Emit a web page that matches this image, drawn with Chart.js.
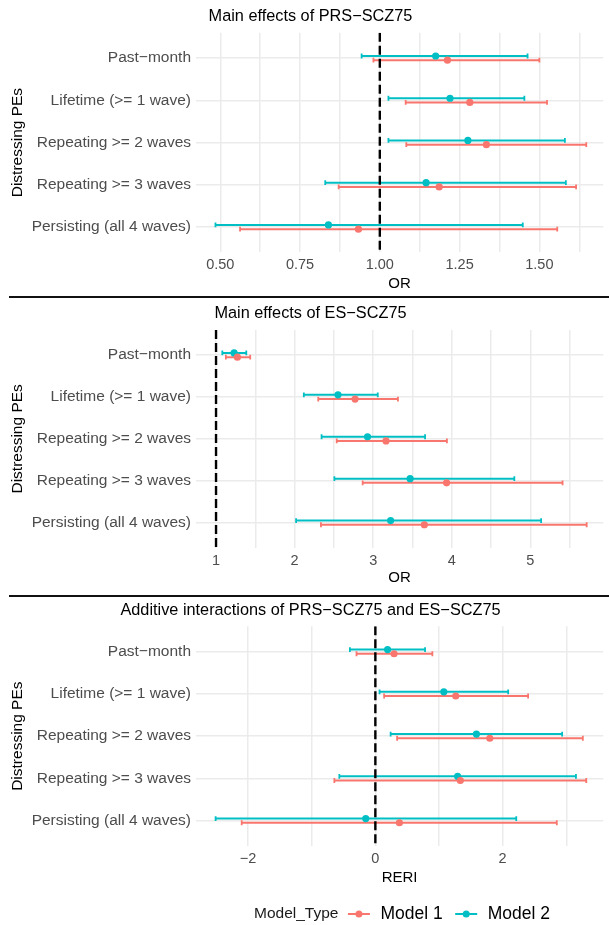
<!DOCTYPE html>
<html>
<head>
<meta charset="utf-8">
<script src="https://cdn.jsdelivr.net/npm/chart.js@4.4.0/dist/chart.umd.min.js"></script>
<style>
html,body{margin:0;padding:0;background:#fff;}
#wrap{position:relative;width:609px;height:925px;overflow:hidden;background:#fff;}
.panel{position:absolute;left:0;width:609px;}
.sep{position:absolute;left:9px;width:600px;height:2px;background:#111;}
</style>
</head>
<body>
<div id="wrap">
  <div class="panel" style="top:0;height:298px"><canvas id="c1"></canvas></div>
  <div class="panel" style="top:298px;height:298px"><canvas id="c2"></canvas></div>
  <div class="panel" style="top:596px;height:329px"><canvas id="c3"></canvas></div>
  <div class="sep" style="top:296px"></div>
  <div class="sep" style="top:595px"></div>
</div>
<script>
// ---------- DATA ----------
const CATEGORIES = ['Past\u2212month', 'Lifetime (>= 1 wave)', 'Repeating >= 2 waves', 'Repeating >= 3 waves', 'Persisting (all 4 waves)'];
const SERIES = ['Model 1', 'Model 2'];
const LEGEND_TITLE = 'Model_Type';
const Y_TITLE = 'Distressing PEs';

// Panel 1: Main effects of PRS-SCZ75 (OR)
const PRS_M1_EST = [1.212, 1.282, 1.334, 1.186, 0.933];
const PRS_M1_LO  = [0.980, 1.081, 1.083, 0.871, 0.562];
const PRS_M1_HI  = [1.500, 1.524, 1.647, 1.615, 1.556];
const PRS_M2_EST = [1.175, 1.220, 1.276, 1.145, 0.839];
const PRS_M2_LO  = [0.943, 1.027, 1.027, 0.829, 0.485];
const PRS_M2_HI  = [1.463, 1.453, 1.580, 1.583, 1.448];
const PRS_TICKS = [0.5, 0.75, 1, 1.25, 1.5];
const PRS_TICK_LABELS = ['0.50', '0.75', '1.00', '1.25', '1.50'];
const PRS_MINOR = [0.625, 0.875, 1.125, 1.375, 1.625];

// Panel 2: Main effects of ES-SCZ75 (OR)
const ES_M1_EST = [1.272, 2.769, 3.163, 3.934, 3.651];
const ES_M1_LO  = [1.125, 2.301, 2.536, 2.866, 2.335];
const ES_M1_HI  = [1.435, 3.315, 3.938, 5.410, 5.717];
const ES_M2_EST = [1.230, 2.552, 2.928, 3.470, 3.222];
const ES_M2_LO  = [1.080, 2.117, 2.343, 2.506, 2.019];
const ES_M2_HI  = [1.385, 3.058, 3.660, 4.796, 5.137];
const ES_TICKS = [1, 2, 3, 4, 5];
const ES_TICK_LABELS = ['1', '2', '3', '4', '5'];
const ES_MINOR = [1.5, 2.5, 3.5, 4.5, 5.5];

// Panel 3: Additive interactions (RERI)
const RERI_M1_EST = [0.294, 1.263, 1.798, 1.335, 0.378];
const RERI_M1_LO  = [-0.296, 0.138, 0.342, -0.644, -2.100];
const RERI_M1_HI  = [0.896, 2.400, 3.260, 3.314, 2.851];
const RERI_M2_EST = [0.192, 1.076, 1.588, 1.293, -0.151];
const RERI_M2_LO  = [-0.400, 0.066, 0.240, -0.566, -2.510];
const RERI_M2_HI  = [0.781, 2.087, 2.935, 3.152, 2.214];
const RERI_TICKS = [-2, 0, 2];
const RERI_TICK_LABELS = ['\u22122', '0', '2'];
const RERI_MINOR = [-1, 1, 3];

// ---------- STYLE ----------
const COLORS = ['#F8766D', '#00BFC4'];
const FONT = "'Liberation Sans', Arial, sans-serif";
const GRID = '#EBEBEB';
const DODGE = 0.05;

const legendPlugin = {
  id: 'mtLegend',
  afterDraw(chart) {
    const ctx = chart.ctx;
    const y = chart.height - 11;
    ctx.save();
    ctx.textBaseline = 'middle';
    ctx.textAlign = 'left';
    let x = 254;
    ctx.font = '15.5px ' + FONT;
    ctx.fillStyle = '#1a1a1a';
    ctx.fillText(LEGEND_TITLE, x, y);
    x += ctx.measureText(LEGEND_TITLE).width + 9.5;
    SERIES.forEach((name, m) => {
      ctx.strokeStyle = COLORS[m];
      ctx.fillStyle = COLORS[m];
      ctx.lineWidth = 2;
      ctx.beginPath(); ctx.moveTo(x, y); ctx.lineTo(x + 22, y); ctx.stroke();
      ctx.beginPath(); ctx.arc(x + 11, y, 3.5, 0, Math.PI * 2); ctx.fill();
      x += 32.5;
      ctx.font = '17.5px ' + FONT;
      ctx.fillStyle = '#000';
      ctx.fillText(name, x, y);
      x += ctx.measureText(name).width + 12.5;
    });
    ctx.restore();
  }
};

function buildPanel(id, c) {
  const datasets = [];
  datasets.push({
    label: 'ref', data: [{x: c.ref, y: -0.6}, {x: c.ref, y: 4.6}], showLine: true,
    borderColor: '#000', borderWidth: 2.4, borderDash: [9, 4], pointRadius: 0, order: 0
  });
  const groups = [[c.est1, c.lo1, c.hi1, DODGE], [c.est2, c.lo2, c.hi2, -DODGE]];
  groups.forEach(([est, lo, hi, off], m) => {
    datasets.push({
      label: SERIES[m], data: est.map((v, i) => ({x: v, y: i + off})),
      pointRadius: 3.6, backgroundColor: COLORS[m], pointBorderWidth: 0, borderWidth: 0, order: 1
    });
    est.forEach((_, i) => datasets.push({
      label: SERIES[m] + ' CI', data: [{x: lo[i], y: i + off}, {x: hi[i], y: i + off}],
      showLine: true, borderColor: COLORS[m], borderWidth: 2,
      pointStyle: 'line', pointRotation: 90, pointRadius: 2.4,
      pointBorderWidth: 1.8, pointBorderColor: COLORS[m], pointBackgroundColor: COLORS[m], order: 2
    }));
  });
  const g = c.geo;
  return new Chart(document.getElementById(id), {
    type: 'scatter',
    data: {datasets},
    plugins: c.legend ? [legendPlugin] : [],
    options: {
      responsive: true, maintainAspectRatio: false, animation: false, events: [],
      layout: {padding: {left: 12, right: 0, top: 0, bottom: g.padBottom}},
      plugins: {
        legend: {display: false}, tooltip: {enabled: false},
        title: {display: true, text: c.title, color: '#000',
          font: {family: FONT, size: 16.3, weight: 'normal'},
          padding: {top: g.tTop, bottom: g.tBot}}
      },
      scales: {
        x: {
          type: 'linear', min: g.xmin, max: g.xmax,
          afterBuildTicks: s => { s.ticks = [...c.ticks, ...c.minor].sort((a, b) => a - b).map(v => ({value: v})); },
          afterFit: s => { s.height = g.xh; },
          grid: {color: GRID, lineWidth: 1.5, drawTicks: false},
          border: {display: false},
          ticks: {autoSkip: false, maxRotation: 0, padding: 4, color: '#4D4D4D',
            font: {family: FONT, size: 14.5},
            callback: v => { const k = c.ticks.indexOf(v); return k >= 0 ? c.tickLabels[k] : ''; }},
          title: {display: true, text: c.xTitle, color: '#000', font: {family: FONT, size: 15},
            padding: {top: 0, bottom: g.xtPad}}
        },
        y: {
          type: 'linear', reverse: true, min: -0.6, max: 4.6,
          afterBuildTicks: s => { s.ticks = CATEGORIES.map((_, i) => ({value: i})); },
          afterFit: s => { s.width = 184; },
          grid: {color: GRID, lineWidth: 1.5, drawTicks: false},
          border: {display: false},
          ticks: {autoSkip: false, padding: 5, color: '#4D4D4D', font: {family: FONT, size: 15.5},
            callback: v => CATEGORIES[v] ?? ''},
          title: {display: true, text: Y_TITLE, color: '#000', font: {family: FONT, size: 15.5},
            padding: {top: -3.8, bottom: 0}}
        }
      }
    }
  });
}

buildPanel('c1', {
  title: 'Main effects of PRS\u2212SCZ75', xTitle: 'OR', ref: 1,
  est1: PRS_M1_EST, lo1: PRS_M1_LO, hi1: PRS_M1_HI, est2: PRS_M2_EST, lo2: PRS_M2_LO, hi2: PRS_M2_HI,
  ticks: PRS_TICKS, tickLabels: PRS_TICK_LABELS, minor: PRS_MINOR,
  geo: {xmin: 0.424, xmax: 1.700, padBottom: 0, xh: 45.6, xtPad: 4.8, tTop: 7.2, tBot: 6.0}
});
buildPanel('c2', {
  title: 'Main effects of ES\u2212SCZ75', xTitle: 'OR', ref: 1,
  est1: ES_M1_EST, lo1: ES_M1_LO, hi1: ES_M1_HI, est2: ES_M2_EST, lo2: ES_M2_LO, hi2: ES_M2_HI,
  ticks: ES_TICKS, tickLabels: ES_TICK_LABELS, minor: ES_MINOR,
  geo: {xmin: 0.745, xmax: 5.927, padBottom: 0, xh: 48.2, xtPad: 9.0, tTop: 5.4, tBot: 6.94}
});
buildPanel('c3', {
  title: 'Additive interactions of PRS\u2212SCZ75 and ES\u2212SCZ75', xTitle: 'RERI', ref: 0, legend: true,
  est1: RERI_M1_EST, lo1: RERI_M1_LO, hi1: RERI_M1_HI, est2: RERI_M2_EST, lo2: RERI_M2_LO, hi2: RERI_M2_HI,
  ticks: RERI_TICKS, tickLabels: RERI_TICK_LABELS, minor: RERI_MINOR,
  geo: {xmin: -2.818, xmax: 3.58, padBottom: 33, xh: 46, xtPad: 5.0, tTop: 5.0, tBot: 5.74}
});
</script>
</body>
</html>
